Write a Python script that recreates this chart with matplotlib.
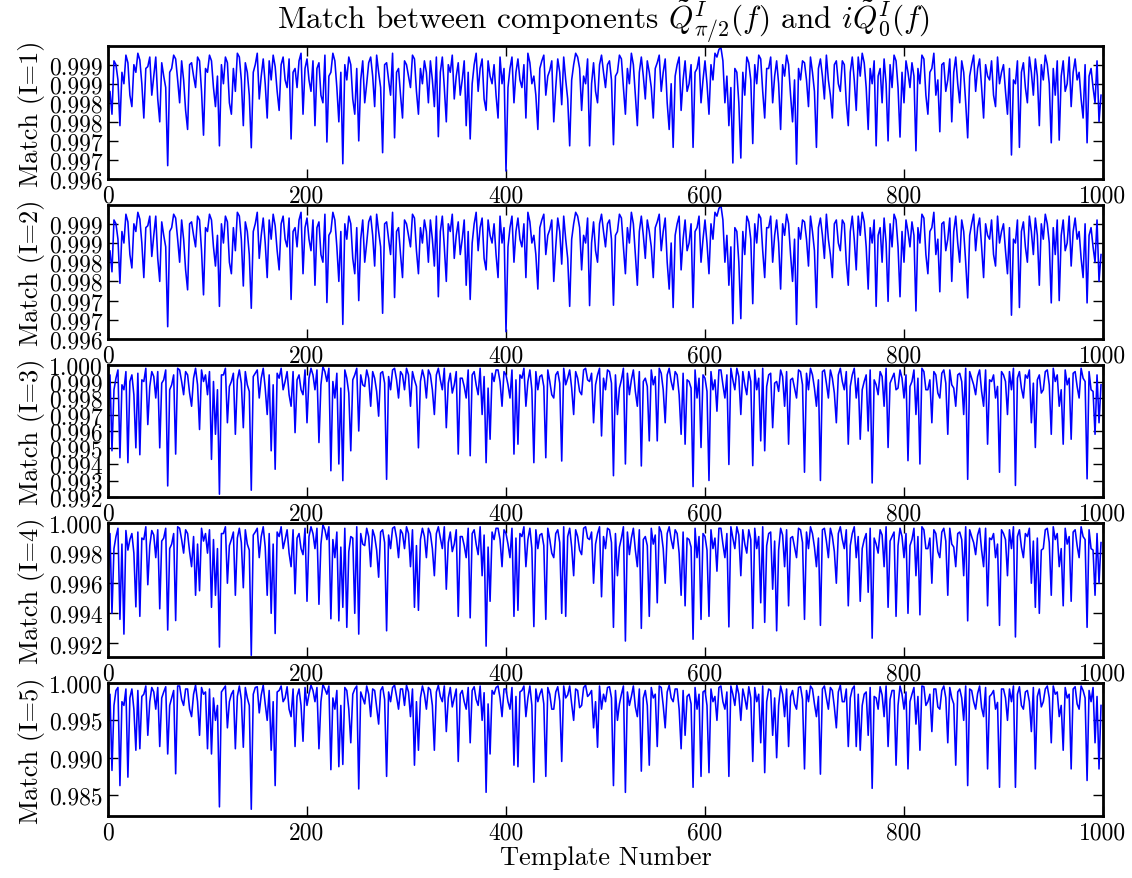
import numpy as np
import matplotlib
matplotlib.use("Agg")
import matplotlib.pyplot as plt

# mismatch = 1 - match, in units of 1e-5, one value every 2 templates (0..998)
mismatch_l1 = [
    205, 170, 230, 90, 100, 140, 260, 120, 150, 75, 95, 180, 210, 100, 120, 70, 88, 150, 240, 110, 105, 80, 180, 130, 80, 190, 250, 95, 130, 160, 365, 120, 110, 75, 85, 140, 200, 90, 140, 220, 270, 100, 95, 130, 160, 80, 90, 170, 285, 110,
    120, 75, 90, 160, 210, 130, 313, 100, 150, 80, 95, 200, 230, 110, 170, 70, 80, 140, 260, 95, 120, 180, 318, 120, 100, 70, 190, 130, 85, 150, 240, 90, 140, 75, 105, 170, 220, 100, 80, 140, 160, 85, 295, 120, 110, 160, 90, 70, 230, 110,
    85, 140, 170, 90, 260, 110, 95, 180, 200, 75, 303, 130, 120, 70, 90, 160, 250, 120, 360, 100, 140, 80, 100, 190, 230, 110, 300, 140, 90, 200, 150, 95, 80, 130, 210, 75, 120, 160, 331, 100, 95, 140, 180, 70, 292, 120, 110, 180, 240, 90,
    100, 130, 160, 75, 85, 170, 230, 110, 150, 90, 120, 200, 90, 140, 210, 80, 289, 120, 80, 160, 250, 100, 120, 75, 190, 130, 95, 180, 140, 90, 260, 120, 295, 150, 100, 70, 170, 110, 85, 190, 220, 90, 130, 150, 100, 180, 240, 80, 150, 110,
    379, 160, 110, 80, 200, 120, 85, 140, 160, 100, 240, 70, 95, 150, 130, 180, 270, 110, 90, 75, 180, 130, 115, 90, 250, 160, 85, 120, 205, 80, 140, 190, 313, 140, 100, 70, 80, 110, 220, 130, 150, 85, 313, 150, 95, 170, 200, 100, 75, 120,
    160, 100, 90, 140, 310, 130, 120, 75, 85, 160, 230, 110, 150, 70, 100, 180, 260, 120, 80, 130, 190, 90, 120, 160, 240, 110, 95, 75, 170, 120, 85, 200, 270, 150, 317, 130, 100, 80, 220, 140, 90, 170, 150, 100, 317, 120, 110, 80, 200, 140,
    90, 150, 230, 100, 140, 70, 80, 60, 55, 90, 200, 130, 260, 160, 358, 110, 120, 200, 345, 120, 180, 80, 95, 140, 307, 100, 150, 75, 85, 170, 240, 110, 110, 80, 200, 130, 90, 150, 270, 100, 130, 75, 100, 180, 250, 140, 361, 110, 140, 90,
    95, 140, 210, 80, 120, 170, 317, 110, 85, 130, 190, 75, 140, 180, 240, 100, 90, 150, 170, 90, 100, 200, 260, 120, 80, 140, 220, 80, 130, 70, 95, 160, 270, 110, 150, 90, 313, 130, 110, 200, 85, 150, 300, 100, 160, 75, 90, 160, 290, 120,
    200, 90, 120, 160, 95, 130, 326, 110, 150, 75, 85, 180, 230, 120, 110, 70, 180, 140, 276, 100, 95, 170, 140, 85, 250, 120, 80, 150, 200, 90, 120, 200, 292, 130, 100, 75, 170, 110, 85, 160, 240, 100, 130, 140, 90, 180, 210, 80, 150, 120,
    100, 170, 230, 110, 337, 140, 150, 90, 317, 120, 95, 160, 200, 80, 120, 180, 85, 130, 260, 100, 140, 75, 100, 150, 305, 110, 180, 90, 298, 130, 90, 170, 150, 80, 210, 120, 85, 140, 120, 190, 240, 100, 305, 130, 110, 160, 200, 90, 250, 180,
]

mismatch_l2 = [
    210, 170, 225, 90, 100, 140, 255, 120, 150, 75, 95, 180, 215, 100, 120, 70, 88, 150, 240, 110, 105, 80, 185, 130, 80, 190, 250, 95, 130, 160, 368, 120, 110, 75, 85, 140, 200, 90, 140, 220, 272, 100, 95, 130, 160, 80, 90, 170, 285, 110,
    120, 75, 90, 160, 210, 130, 315, 100, 150, 80, 95, 200, 230, 110, 170, 70, 80, 140, 262, 95, 120, 180, 320, 120, 100, 70, 190, 130, 85, 150, 240, 90, 140, 75, 105, 170, 220, 100, 80, 140, 160, 85, 297, 120, 110, 160, 90, 70, 230, 110,
    85, 140, 170, 90, 260, 110, 95, 180, 200, 75, 305, 130, 120, 70, 90, 160, 250, 120, 362, 100, 140, 80, 100, 190, 230, 110, 300, 140, 90, 200, 150, 95, 80, 130, 210, 75, 120, 160, 333, 100, 95, 140, 180, 70, 292, 120, 110, 180, 240, 90,
    100, 130, 160, 75, 85, 170, 230, 110, 150, 90, 120, 200, 90, 140, 210, 80, 290, 120, 80, 160, 250, 100, 120, 75, 190, 130, 95, 180, 140, 90, 260, 120, 297, 150, 100, 70, 170, 110, 85, 190, 220, 90, 130, 150, 100, 180, 240, 80, 150, 110,
    381, 160, 110, 80, 200, 120, 85, 140, 160, 100, 240, 70, 95, 150, 130, 180, 270, 110, 90, 75, 180, 130, 115, 90, 250, 160, 85, 120, 205, 80, 140, 190, 315, 140, 100, 70, 80, 110, 220, 130, 150, 85, 313, 150, 95, 170, 200, 100, 75, 120,
    160, 100, 90, 140, 312, 130, 120, 75, 85, 160, 230, 110, 150, 70, 100, 180, 260, 120, 80, 130, 190, 90, 120, 160, 240, 110, 95, 75, 170, 120, 85, 200, 270, 150, 318, 130, 100, 80, 220, 140, 90, 170, 150, 100, 318, 120, 110, 80, 200, 140,
    90, 150, 230, 100, 140, 70, 80, 60, 52, 90, 200, 130, 260, 160, 360, 110, 120, 200, 347, 120, 180, 80, 95, 140, 308, 100, 150, 75, 85, 170, 240, 110, 110, 80, 200, 130, 90, 150, 270, 100, 130, 75, 100, 180, 250, 140, 362, 110, 140, 90,
    95, 140, 210, 80, 120, 170, 318, 110, 85, 130, 190, 75, 140, 180, 240, 100, 90, 150, 170, 90, 100, 200, 260, 120, 80, 140, 220, 80, 130, 70, 95, 160, 270, 110, 150, 90, 315, 130, 110, 200, 85, 150, 302, 100, 160, 75, 90, 160, 290, 120,
    200, 90, 120, 160, 95, 130, 327, 110, 150, 75, 85, 180, 230, 120, 110, 70, 180, 140, 277, 100, 95, 170, 140, 85, 250, 120, 80, 150, 200, 90, 120, 200, 293, 130, 100, 75, 170, 110, 85, 160, 240, 100, 130, 140, 90, 180, 210, 80, 150, 120,
    100, 170, 230, 110, 338, 140, 150, 90, 318, 120, 95, 160, 200, 80, 120, 180, 85, 130, 260, 100, 140, 75, 100, 150, 306, 110, 180, 90, 300, 130, 90, 170, 150, 80, 210, 120, 85, 140, 120, 190, 240, 100, 306, 130, 110, 160, 200, 90, 250, 180,
]

mismatch_l3 = [
    300, 60, 520, 150, 80, 30, 562, 120, 150, 40, 592, 100, 60, 180, 502, 50, 544, 90, 100, 20, 361, 130, 40, 70, 200, 40, 502, 110, 90, 30, 733, 150, 120, 60, 540, 20, 30, 100, 180, 40, 60, 170, 250, 80, 20, 120, 391, 30, 100, 60,
    180, 40, 572, 100, 420, 150, 783, 60, 60, 20, 350, 130, 100, 50, 420, 90, 30, 110, 380, 40, 120, 160, 759, 70, 50, 30, 200, 80, 20, 140, 300, 60, 520, 120, 632, 50, 80, 20, 150, 100, 40, 180, 250, 40, 410, 90, 60, 150, 180, 30,
    350, 80, 20, 60, 150, 30, 470, 120, 10, 40, 100, 20, 641, 100, 200, 50, 600, 140, 701, 30, 80, 170, 520, 90, 60, 20, 400, 60, 120, 130, 30, 80, 250, 40, 80, 160, 310, 50, 40, 110, 693, 70, 150, 30, 20, 90, 200, 40, 60, 150,
    20, 60, 250, 40, 90, 130, 502, 100, 30, 80, 200, 30, 60, 150, 300, 60, 20, 90, 150, 20, 380, 110, 50, 170, 120, 40, 540, 80, 80, 130, 200, 30, 550, 60, 40, 120, 180, 20, 300, 70, 592, 140, 450, 50, 100, 30, 30, 100, 250, 40,
    60, 120, 200, 30, 540, 90, 480, 60, 80, 20, 250, 100, 30, 150, 592, 40, 150, 70, 60, 130, 562, 30, 100, 180, 200, 60, 40, 110, 582, 20, 120, 80, 30, 140, 300, 40, 80, 160, 180, 30, 20, 90, 100, 50, 350, 120, 60, 20, 430, 80,
    150, 30, 40, 110, 671, 60, 300, 140, 90, 20, 600, 50, 180, 90, 30, 160, 250, 40, 612, 100, 80, 130, 460, 30, 120, 70, 460, 20, 50, 150, 350, 60, 20, 100, 150, 40, 60, 180, 420, 50, 480, 90, 100, 140, 737, 30, 200, 80, 500, 60,
    80, 160, 700, 40, 150, 90, 280, 30, 30, 120, 200, 60, 603, 20, 90, 150, 20, 70, 300, 40, 120, 180, 40, 100, 610, 30, 150, 80, 460, 20, 520, 130, 60, 50, 380, 110, 100, 160, 30, 70, 250, 40, 480, 90, 80, 140, 200, 30, 40, 120,
    650, 50, 150, 20, 60, 140, 250, 90, 700, 40, 30, 110, 200, 30, 80, 170, 350, 60, 20, 100, 150, 40, 480, 130, 60, 20, 200, 80, 450, 150, 100, 60, 400, 30, 715, 90, 120, 180, 40, 70, 250, 20, 500, 110, 80, 50, 150, 140, 30, 80,
    200, 60, 580, 130, 100, 30, 300, 80, 600, 20, 40, 150, 150, 90, 350, 40, 60, 170, 200, 50, 30, 110, 420, 30, 120, 140, 250, 60, 50, 100, 300, 20, 693, 40, 80, 120, 180, 70, 30, 160, 250, 30, 480, 90, 100, 60, 200, 130, 650, 40,
    60, 100, 300, 40, 150, 20, 730, 80, 40, 140, 200, 60, 80, 30, 350, 110, 500, 90, 60, 170, 150, 40, 30, 120, 420, 20, 100, 60, 250, 150, 480, 30, 120, 80, 450, 50, 40, 130, 200, 20, 80, 100, 690, 40, 150, 160, 420, 60, 350, 120,
]

mismatch_l4 = [
    350, 70, 600, 170, 90, 35, 640, 140, 738, 50, 180, 110, 70, 200, 557, 60, 620, 100, 110, 25, 410, 150, 50, 80, 230, 45, 570, 120, 100, 35, 711, 170, 140, 70, 648, 25, 35, 110, 200, 45, 70, 190, 290, 90, 480, 140, 450, 35, 120, 70,
    200, 45, 560, 110, 480, 170, 824, 70, 70, 25, 400, 150, 110, 60, 480, 100, 35, 130, 430, 45, 140, 180, 879, 80, 60, 35, 230, 90, 25, 160, 480, 70, 600, 140, 734, 60, 90, 25, 170, 110, 45, 200, 290, 45, 470, 100, 70, 170, 210, 35,
    520, 90, 25, 70, 170, 35, 540, 140, 12, 45, 110, 25, 636, 110, 230, 60, 650, 160, 560, 35, 693, 190, 90, 100, 600, 25, 738, 70, 140, 150, 35, 90, 290, 45, 90, 180, 360, 60, 45, 130, 716, 80, 170, 35, 25, 100, 230, 45, 70, 170,
    25, 70, 290, 45, 560, 150, 580, 110, 35, 90, 230, 35, 70, 170, 350, 70, 25, 100, 170, 25, 440, 130, 60, 190, 140, 45, 620, 90, 90, 150, 230, 35, 630, 70, 45, 140, 210, 25, 350, 80, 818, 160, 520, 60, 110, 35, 35, 110, 290, 45,
    70, 140, 230, 35, 620, 100, 580, 70, 90, 25, 290, 110, 35, 170, 688, 45, 170, 80, 70, 150, 640, 35, 110, 200, 230, 70, 45, 130, 600, 25, 620, 90, 35, 160, 350, 45, 90, 180, 210, 35, 25, 100, 110, 60, 400, 140, 70, 25, 490, 90,
    170, 35, 45, 130, 693, 70, 350, 160, 100, 25, 784, 60, 210, 100, 35, 180, 290, 45, 700, 110, 90, 150, 620, 35, 140, 80, 530, 25, 60, 170, 400, 70, 25, 110, 170, 45, 70, 200, 480, 60, 550, 100, 110, 160, 772, 35, 230, 90, 640, 70,
    90, 180, 620, 45, 170, 100, 320, 35, 35, 140, 230, 70, 690, 25, 100, 170, 25, 80, 350, 45, 140, 200, 45, 110, 700, 35, 170, 90, 530, 25, 660, 150, 70, 60, 440, 120, 716, 180, 35, 80, 290, 45, 550, 100, 90, 160, 230, 35, 45, 130,
    640, 60, 170, 25, 70, 160, 290, 100, 680, 45, 35, 120, 230, 35, 90, 190, 400, 70, 25, 110, 170, 45, 550, 150, 70, 25, 230, 90, 520, 170, 110, 70, 460, 35, 765, 100, 140, 200, 45, 80, 290, 25, 560, 120, 90, 60, 620, 150, 35, 90,
    230, 70, 600, 150, 110, 35, 350, 90, 610, 25, 45, 170, 170, 100, 400, 45, 70, 190, 230, 60, 35, 120, 480, 35, 140, 160, 290, 70, 60, 110, 350, 25, 650, 45, 90, 130, 210, 80, 35, 180, 290, 35, 550, 100, 110, 70, 230, 140, 680, 45,
    70, 110, 350, 45, 170, 25, 757, 90, 45, 160, 230, 70, 90, 35, 400, 120, 560, 100, 600, 180, 170, 45, 35, 130, 480, 25, 110, 70, 290, 170, 550, 35, 140, 90, 520, 60, 45, 150, 230, 25, 90, 110, 693, 45, 170, 180, 480, 70, 400, 130,
]

mismatch_l5 = [
    600, 150, 1170, 300, 100, 60, 1373, 250, 300, 80, 1260, 200, 80, 350, 900, 100, 880, 180, 150, 40, 700, 250, 60, 120, 350, 60, 850, 200, 120, 50, 950, 300, 200, 100, 1215, 40, 40, 220, 300, 80, 80, 350, 450, 150, 30, 250, 700, 60, 150, 120,
    880, 80, 950, 200, 500, 300, 1658, 120, 80, 40, 600, 250, 150, 100, 880, 180, 40, 220, 860, 60, 200, 300, 1690, 150, 60, 50, 400, 160, 30, 280, 500, 100, 900, 250, 1373, 120, 100, 40, 250, 200, 50, 350, 450, 80, 850, 180, 80, 300, 780, 60,
    300, 150, 30, 100, 250, 60, 880, 250, 20, 80, 150, 40, 1160, 200, 350, 100, 1120, 300, 1090, 60, 100, 350, 800, 150, 80, 40, 1418, 120, 200, 280, 40, 150, 450, 80, 100, 320, 550, 100, 50, 220, 1250, 120, 250, 60, 30, 180, 350, 80, 80, 300,
    30, 120, 450, 80, 1100, 250, 900, 200, 40, 150, 350, 60, 90, 300, 900, 120, 30, 180, 250, 40, 650, 200, 60, 320, 200, 80, 1050, 150, 100, 250, 350, 60, 800, 100, 50, 220, 300, 40, 500, 130, 1463, 280, 950, 100, 150, 60, 40, 200, 450, 80,
    80, 250, 350, 60, 1100, 180, 1120, 120, 100, 40, 450, 200, 40, 300, 1328, 80, 250, 150, 80, 280, 1250, 60, 150, 350, 350, 120, 50, 240, 1050, 40, 200, 160, 40, 280, 500, 80, 100, 330, 300, 60, 30, 180, 150, 100, 600, 250, 860, 40, 350, 150,
    250, 60, 50, 200, 1373, 100, 500, 280, 150, 40, 1464, 120, 300, 180, 40, 320, 450, 80, 1180, 200, 100, 300, 1100, 60, 200, 150, 850, 40, 60, 300, 600, 120, 30, 200, 250, 80, 80, 350, 880, 100, 700, 180, 150, 280, 1396, 60, 350, 150, 1250, 120,
    100, 300, 1200, 80, 250, 180, 500, 60, 40, 250, 350, 120, 1250, 40, 150, 300, 30, 150, 500, 80, 200, 350, 50, 200, 1050, 60, 250, 150, 800, 40, 1200, 250, 80, 100, 700, 200, 1000, 300, 40, 150, 450, 80, 850, 180, 100, 280, 350, 60, 50, 220,
    1150, 100, 250, 40, 80, 280, 450, 180, 1220, 80, 40, 200, 350, 60, 100, 320, 600, 120, 30, 250, 250, 80, 850, 200, 80, 40, 850, 150, 900, 300, 150, 120, 700, 60, 1410, 180, 200, 350, 50, 160, 450, 40, 850, 220, 100, 100, 1100, 300, 40, 150,
    350, 120, 1150, 250, 150, 60, 550, 180, 900, 40, 50, 300, 250, 150, 650, 80, 80, 320, 350, 100, 40, 200, 800, 60, 200, 280, 1100, 120, 80, 200, 500, 40, 1373, 80, 100, 250, 350, 140, 40, 330, 450, 60, 1150, 180, 150, 100, 350, 260, 1396, 80,
    80, 200, 500, 80, 250, 40, 1396, 150, 50, 300, 350, 120, 100, 250, 650, 60, 1150, 180, 80, 320, 250, 80, 40, 200, 800, 40, 150, 120, 450, 300, 900, 60, 200, 150, 1150, 80, 50, 280, 350, 40, 100, 200, 1305, 100, 250, 60, 800, 180, 1150, 300,
]

series = [mismatch_l1, mismatch_l2, mismatch_l3, mismatch_l4, mismatch_l5]
ylabels = ['Match (I=1)', 'Match (I=2)', 'Match (I=3)', 'Match (I=4)', 'Match (I=5)']
yticks = [
    [0.996, 0.9965, 0.997, 0.9975, 0.998, 0.9985, 0.999],
    [0.996, 0.9965, 0.997, 0.9975, 0.998, 0.9985, 0.999],
    [0.992, 0.993, 0.994, 0.995, 0.996, 0.997, 0.998, 0.999, 1.000],
    [0.992, 0.994, 0.996, 0.998, 1.000],
    [0.985, 0.990, 0.995, 1.000],
]
yticklabels = [
    ['0.996', '0.997', '0.997', '0.998', '0.998', '0.999', '0.999'],
    ['0.996', '0.997', '0.997', '0.998', '0.998', '0.999', '0.999'],
    ['0.992', '0.993', '0.994', '0.995', '0.996', '0.997', '0.998', '0.999', '1.000'],
    ['0.992', '0.994', '0.996', '0.998', '1.000'],
    ['0.985', '0.990', '0.995', '1.000'],
]
ylims = [(0.996, 0.99949), (0.996, 0.99949), (0.992, 1.0), (0.9911, 1.0), (0.9822, 1.0)]
xticks = [0, 200, 400, 600, 800, 1000]

plt.rcParams['font.family'] = 'serif'
plt.rcParams['font.serif'] = ['cmr10']
plt.rcParams['mathtext.fontset'] = 'cm'
plt.rcParams['axes.unicode_minus'] = False

fig = plt.figure(figsize=(11.32, 8.79), dpi=100)

# axes boxes in pixels from the top: (top, bottom)
boxes = [(47, 180), (206, 340), (366, 498), (524, 658), (684, 817)]
left, right = 108, 1103
W, H = 1132.0, 879.0

for i, vals in enumerate(series):
    top, bot = boxes[i]
    ax = fig.add_axes([left / W, 1 - bot / H, (right - left) / W, (bot - top) / H])
    match = 1 - np.array(vals) * 1e-5
    x = np.arange(len(match)) * 2
    ax.plot(x, match, color='#0000ff', lw=1.15)
    ax.set_xlim(0, 1000)
    ax.set_ylim(*ylims[i])
    ax.set_xticks(xticks)
    ax.set_xticklabels([str(t) for t in xticks])
    ax.set_yticks(yticks[i])
    ax.set_yticklabels(yticklabels[i])
    ax.tick_params(direction='in', top=True, right=True, length=7, width=1,
                   labelsize=17, pad=4)
    for s in ax.spines.values():
        s.set_linewidth(2)
    ax.set_ylabel(ylabels[i], fontsize=19, labelpad=3)
    if i == 4:
        ax.set_xlabel('Template Number', fontsize=19, labelpad=1)

fig.text(0.533, 1 - 22 / H,
         r'Match between components $\tilde{Q}^I_{\pi/2}(f)$ and $i\tilde{Q}^I_0(f)$',
         ha='center', va='center', fontsize=22.5)

fig.savefig('out.png', dpi=100)
